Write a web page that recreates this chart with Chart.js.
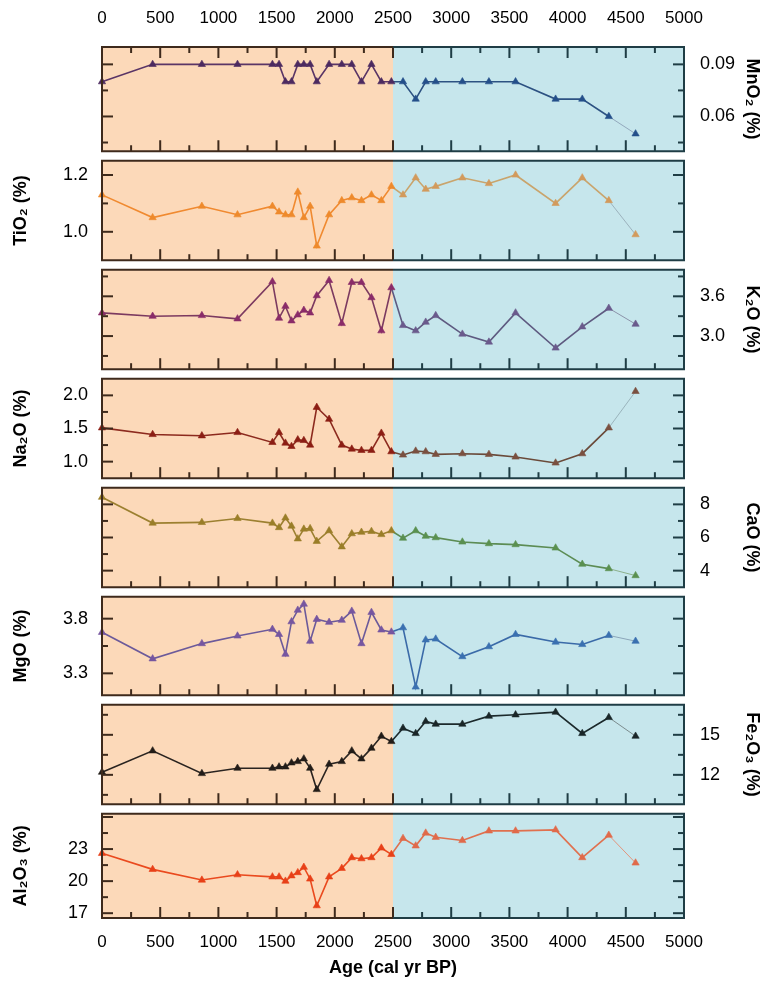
<!DOCTYPE html>
<html><head><meta charset="utf-8">
<script src="https://cdn.jsdelivr.net/npm/chart.js@4.4.1/dist/chart.umd.min.js"></script>
<style>
html,body{margin:0;padding:0;background:#fff;}
#wrap{position:relative;width:773px;height:991px;overflow:hidden;}
#wrap canvas{position:absolute;left:0;}
</style></head><body><div id="wrap"></div>
<script>
// ---- data ----
const ages = [0,435,858,1164,1464,1521,1576,1628,1682,1734,1788,1845,1951,2060,2146,2229,2315,2400,2486,2586,2695,2781,2867,3096,3324,3553,3897,4126,4354,4584];
const mno2  = [0.08,0.09,0.09,0.09,0.09,0.09,0.08,0.08,0.09,0.09,0.09,0.08,0.09,0.09,0.09,0.08,0.09,0.08,0.08,0.08,0.07,0.08,0.08,0.08,0.08,0.08,0.07,0.07,0.06,0.05];
const tio2  = [1.13,1.05,1.09,1.06,1.09,1.07,1.06,1.06,1.14,1.05,1.09,0.95,1.06,1.11,1.12,1.11,1.13,1.11,1.16,1.13,1.19,1.15,1.16,1.19,1.17,1.20,1.10,1.19,1.11,0.99];
const k2o   = [3.35,3.30,3.31,3.26,3.82,3.27,3.45,3.23,3.32,3.39,3.35,3.61,3.84,3.19,3.81,3.81,3.58,3.08,3.73,3.16,3.08,3.21,3.31,3.03,2.91,3.35,2.82,3.14,3.42,3.18];
const na2o  = [1.51,1.41,1.39,1.44,1.29,1.44,1.28,1.23,1.33,1.32,1.25,1.82,1.64,1.25,1.19,1.17,1.17,1.43,1.15,1.10,1.16,1.15,1.11,1.12,1.11,1.07,0.98,1.12,1.51,2.06];
const cao   = [8.43,6.87,6.91,7.15,6.87,6.60,7.18,6.69,5.92,6.51,6.54,5.77,6.41,5.44,6.23,6.32,6.37,6.18,6.41,5.96,6.41,6.08,5.99,5.73,5.63,5.57,5.37,4.39,4.12,3.70];
const mgo   = [3.675,3.433,3.572,3.642,3.703,3.656,3.475,3.772,3.878,3.933,3.594,3.794,3.767,3.786,3.869,3.572,3.858,3.697,3.678,3.717,3.175,3.606,3.614,3.453,3.544,3.656,3.586,3.564,3.647,3.594];
const fe2o3 = [12.2,13.8,12.1,12.5,12.5,12.6,12.6,12.9,13.0,13.2,12.5,10.9,12.8,13.0,13.8,13.2,14.0,14.9,14.5,15.5,15.1,16.0,15.8,15.8,16.4,16.5,16.7,15.1,16.3,14.9];
const al2o3 = [22.6,21.1,20.1,20.6,20.4,20.4,20.0,20.5,20.8,21.3,20.2,17.7,20.4,21.2,22.2,22.1,22.2,23.1,22.5,24.0,23.3,24.5,24.1,23.8,24.7,24.7,24.8,22.2,24.3,21.7];

// tick labels
const xTicks      = [0,500,1000,1500,2000,2500,3000,3500,4000,4500,5000];
const mno2Ticks   = [0.06,0.09];
const tio2Ticks   = [1.0,1.2];
const k2oTicks    = [3.0,3.6];
const na2oTicks   = [1.0,1.5,2.0];
const caoTicks    = [4,6,8];
const mgoTicks    = [3.3,3.8];
const fe2o3Ticks  = [12,15];
const al2o3Ticks  = [17,20,23];

// ---- styling / layout ----
const B = [47,156,265,374,483,592,700,809,918];
const XL = 102, XR = 684, W = 773, H = 991;
const split = 2500;
const BROWN = '#3e2a1c', TEAL = '#1f3d45';

const panels = [
 {title:'MnO\u2082 (%)', v:mno2, t:mno2Ticks, side:'right', min:0.04, max:0.1, dec:2,
  c:{la:'#5a3566',pa:'#4c2a60',lb:'#2d5282',pb:'#244f8a',lc:'#93a9bd'}},
 {title:'TiO\u2082 (%)', v:tio2, t:tio2Ticks, side:'left', min:0.9, max:1.25, dec:1,
  c:{la:'#f08a30',pa:'#ee8a2c',lb:'#c9a46c',pb:'#d29a5c',lc:'#9cb2bd'}},
 {title:'K\u2082O (%)', v:k2o, t:k2oTicks, side:'right', min:2.5, max:4.0, dec:1,
  c:{la:'#7c3a60',pa:'#8a2c68',lb:'#5e5a80',pb:'#6a5a8c',lc:'#8c94aa'}},
 {title:'Na\u2082O (%)', v:na2o, t:na2oTicks, side:'left', min:0.75, max:2.25, dec:1,
  c:{la:'#8c2a1e',pa:'#8c1e14',lb:'#6a4a3a',pb:'#7a5040',lc:'#9ab4bc'}},
 {title:'CaO (%)', v:cao, t:caoTicks, side:'right', min:3, max:9, dec:0,
  c:{la:'#9c8030',pa:'#9a7e28',lb:'#5c8c54',pb:'#5a9050',lc:'#8cb08c'}},
 {title:'MgO (%)', v:mgo, t:mgoTicks, side:'left', min:3.1, max:4.0, dec:1,
  c:{la:'#6c5a9a',pa:'#7656a0',lb:'#3a6aa8',pb:'#3a70b0',lc:'#8ca6ba'}},
 {title:'Fe\u2082O\u2083 (%)', v:fe2o3, t:fe2o3Ticks, side:'right', min:9.8, max:17.25, dec:0,
  c:{la:'#2a2420',pa:'#221c18',lb:'#1c2a2c',pb:'#1a2628',lc:'#7c8c8e'}},
 {title:'Al\u2082O\u2083 (%)', v:al2o3, t:al2o3Ticks, side:'left', min:16.55, max:26.3, dec:0,
  c:{la:'#ea4a1e',pa:'#e84018',lb:'#e0704e',pb:'#e06a4a',lc:'#e2957e'}}
];

Chart.defaults.font.family = '"Liberation Sans", Arial, sans-serif';
Chart.defaults.color = '#000';

const framePlugin = {
  id: 'frame',
  beforeDatasetsDraw(chart, args, o) {
    const ctx = chart.ctx, ca = chart.chartArea, xs = chart.scales.x;
    const xm = xs.getPixelForValue(split);
    ctx.save();
    ctx.fillStyle = '#fcd9b9';
    ctx.fillRect(ca.left, ca.top, xm - ca.left, ca.bottom - ca.top);
    ctx.fillStyle = '#c6e6ec';
    ctx.fillRect(xm, ca.top, ca.right - xm, ca.bottom - ca.top);
    ctx.restore();
  },
  afterDraw(chart, args, o) {
    const ctx = chart.ctx, ca = chart.chartArea, xs = chart.scales.x, ys = chart.scales.y;
    const xm = xs.getPixelForValue(split);
    ctx.save();
    ctx.lineWidth = 2;
    ctx.lineCap = 'butt';
    const x0 = xTicks[0], xstep = (xTicks[1] - xTicks[0]) / 2;
    for (let n = 0; x0 + n * xstep <= xTicks[xTicks.length - 1] + 1e-9; n++) {
      const v = x0 + n * xstep;
      const px = xs.getPixelForValue(v);
      const len = n % 2 === 0 ? 11 : 6;
      ctx.strokeStyle = v <= split ? BROWN : TEAL;
      ctx.beginPath();
      ctx.moveTo(px, ca.bottom); ctx.lineTo(px, ca.bottom - len);
      if (o.topTicks) { ctx.moveTo(px, ca.top); ctx.lineTo(px, ca.top + len); }
      ctx.stroke();
    }
    const t = o.ticks, half = (t[1] - t[0]) / 2;
    const nStart = Math.ceil((ys.min - t[0]) / half - 1e-9);
    for (let n = nStart; t[0] + n * half <= ys.max + 1e-9; n++) {
      const v = t[0] + n * half;
      if (v <= ys.min + 1e-9 || v >= ys.max - 1e-9) continue;
      const py = ys.getPixelForValue(v);
      const len = Math.abs(n) % 2 === 0 ? 11 : 6;
      ctx.strokeStyle = BROWN;
      ctx.beginPath(); ctx.moveTo(ca.left, py); ctx.lineTo(ca.left + len, py); ctx.stroke();
      ctx.strokeStyle = TEAL;
      ctx.beginPath(); ctx.moveTo(ca.right, py); ctx.lineTo(ca.right - len, py); ctx.stroke();
    }
    ctx.strokeStyle = BROWN;
    ctx.beginPath();
    ctx.moveTo(xm, ca.top); ctx.lineTo(ca.left, ca.top); ctx.lineTo(ca.left, ca.bottom); ctx.lineTo(xm, ca.bottom);
    ctx.stroke();
    ctx.strokeStyle = TEAL;
    ctx.beginPath();
    ctx.moveTo(xm, ca.top); ctx.lineTo(ca.right, ca.top); ctx.lineTo(ca.right, ca.bottom); ctx.lineTo(xm, ca.bottom);
    ctx.stroke();
    ctx.restore();
  }
};

const wrap = document.getElementById('wrap');
const last = ages.length - 1;

panels.forEach((p, i) => {
  const top = i === 0 ? 0 : B[i];
  const bottom = i === panels.length - 1 ? H : B[i + 1];
  const cv = document.createElement('canvas');
  cv.width = W; cv.height = bottom - top;
  cv.style.top = top + 'px';
  cv.style.width = W + 'px'; cv.style.height = (bottom - top) + 'px';
  wrap.appendChild(cv);

  const isTop = i === 0, isBottom = i === panels.length - 1;
  const c = p.c;
  new Chart(cv.getContext('2d'), {
    type: 'line',
    data: {
      datasets: [{
        data: ages.map((a, k) => ({x: a, y: p.v[k]})),
        borderWidth: 1.6,
        tension: 0,
        fill: false,
        clip: 6,
        pointStyle: 'triangle',
        pointRadius: 4.2,
        pointHoverRadius: 4.2,
        pointBorderWidth: 0.6,
        pointBackgroundColor: ctx => (ages[ctx.dataIndex] < split ? c.pa : c.pb),
        pointBorderColor: ctx => (ages[ctx.dataIndex] < split ? c.pa : c.pb),
        segment: {
          borderColor: ctx => ctx.p1DataIndex === last ? c.lc :
            ((ctx.p0.parsed.x + ctx.p1.parsed.x) / 2 < split ? c.la : c.lb),
          borderWidth: ctx => ctx.p1DataIndex === last ? 1 : 1.6
        }
      }]
    },
    options: {
      responsive: false,
      maintainAspectRatio: false,
      animation: false,
      devicePixelRatio: 1,
      events: [],
      layout: {padding: {left: p.side === 'right' ? XL : 0, right: p.side === 'left' ? (W - XR) : 0, top: 0, bottom: 0}},
      plugins: {
        legend: {display: false}, tooltip: {enabled: false}, title: {display: false},
        frame: {ticks: p.t, topTicks: isTop}
      },
      scales: {
        x: {
          type: 'linear', min: 0, max: 5000,
          position: isTop ? 'top' : 'bottom',
          display: isTop || isBottom,
          grid: {display: false}, border: {display: false},
          afterBuildTicks: s => { s.ticks = xTicks.map(v => ({value: v})); },
          afterFit: s => {
            s.height = isTop ? B[0] : (isBottom ? (H - B[8]) : 0);
            s.paddingLeft = 0; s.paddingRight = 0; s.paddingTop = 0; s.paddingBottom = 0;
          },
          ticks: {
            font: {size: 17}, color: '#000', maxRotation: 0, autoSkip: false,
            padding: isTop ? 10 : 6,
            callback: v => String(v)
          },
          title: {
            display: isBottom, text: 'Age (cal yr BP)',
            font: {size: 18, weight: 'bold'}, color: '#000',
            padding: {top: 0, bottom: 12}
          }
        },
        y: {
          type: 'linear', min: p.min, max: p.max,
          position: p.side,
          grid: {display: false}, border: {display: false},
          afterBuildTicks: s => { s.ticks = p.t.map(v => ({value: v})); },
          afterFit: s => {
            s.width = p.side === 'left' ? XL : (W - XR);
            s.paddingLeft = 0; s.paddingRight = 0; s.paddingTop = 0; s.paddingBottom = 0;
          },
          ticks: {
            font: {size: 18}, color: '#000', autoSkip: false,
            padding: p.side === 'left' ? 6 : 8,
            callback: v => Number(v).toFixed(p.dec)
          },
          title: {
            display: true, text: p.title,
            font: {size: 18, weight: 'bold'}, color: '#000',
            padding: {top: 10, bottom: 0}
          }
        }
      }
    },
    plugins: [framePlugin]
  });
});
</script>
</body></html>
